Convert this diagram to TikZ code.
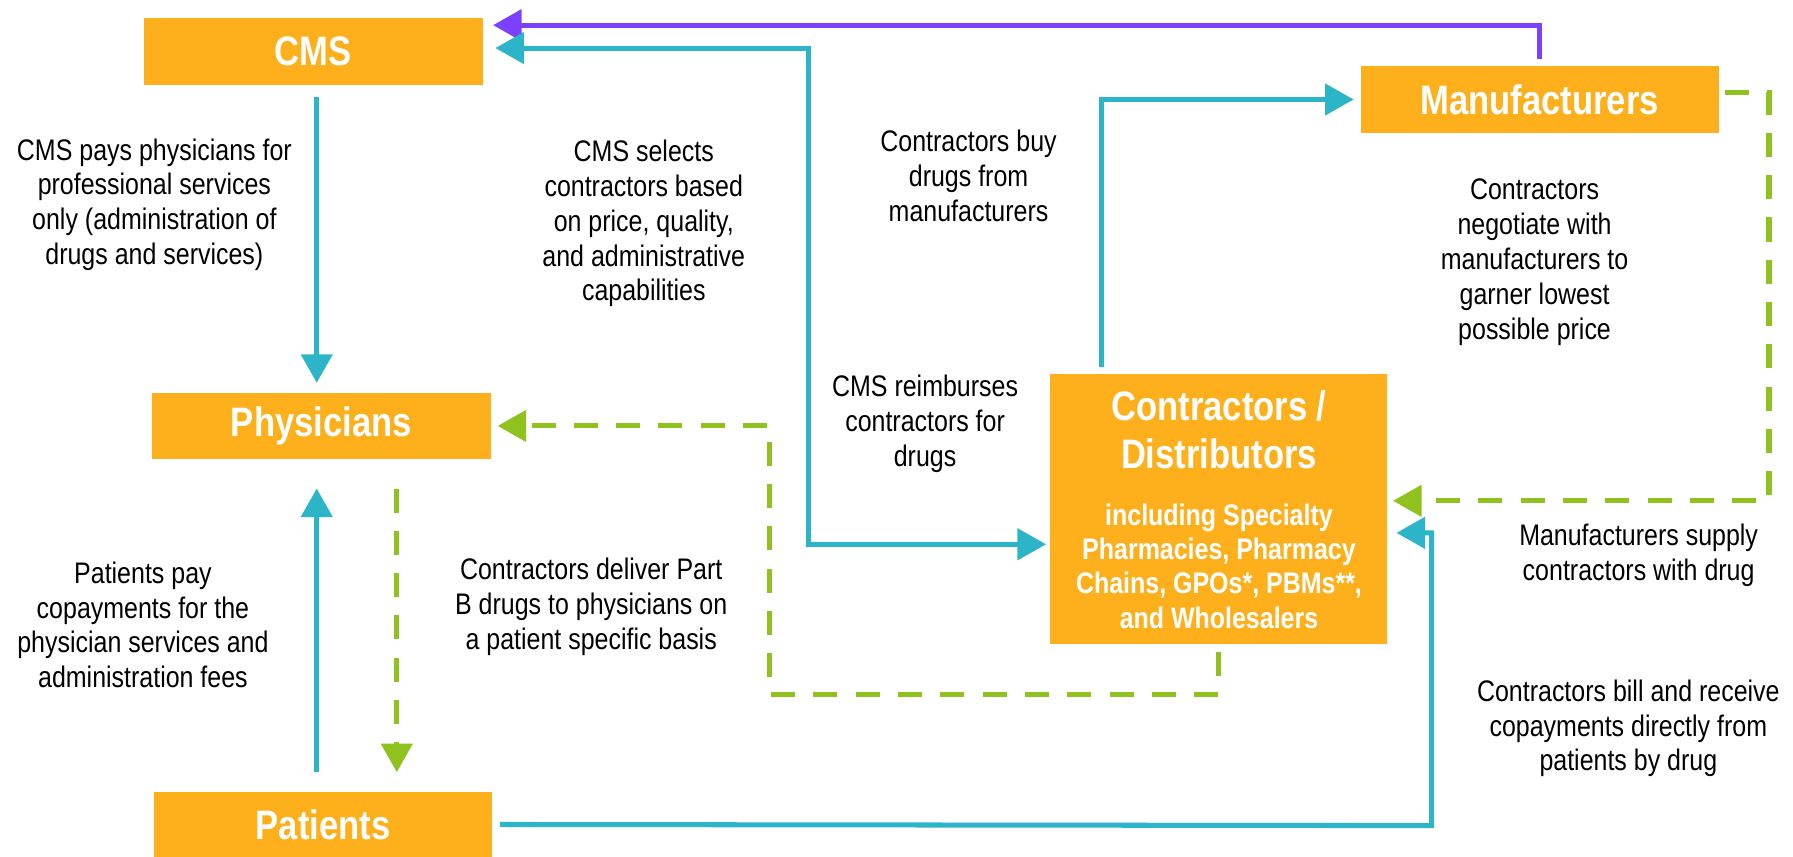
\documentclass[tikz,border=0pt]{standalone}
\usepackage{fontspec}
\setmainfont[FakeStretch=0.84]{Liberation Sans}
\usetikzlibrary{arrows.meta}
\definecolor{boxorange}{RGB}{253,176,27}
\definecolor{flowblue}{RGB}{44,181,200}
\definecolor{flowpurple}{RGB}{124,64,255}
\definecolor{flowgreen}{RGB}{143,194,31}

\tikzset{
  partybox/.style={fill=boxorange, draw=none, inner sep=0pt, text=white,
    font=\fontsize{36}{42}\selectfont\bfseries},
  boxtitle/.style={align=center, inner sep=0pt, text=white,
    font=\fontsize{36}{42}\selectfont\bfseries},
  boxsub/.style={align=center, inner sep=0pt, text=white,
    font=\fontsize{26}{30}\selectfont\bfseries},
  note/.style={align=center, inner sep=0pt, font=\fontsize{26}{30.5}\selectfont},
  blueline/.style={draw=flowblue, line width=4.4pt},
  purpleline/.style={draw=flowpurple, line width=4.4pt},
  greenline/.style={draw=flowgreen, line width=4.4pt, dash pattern=on 21pt off 16pt},
  headto/.style={-{Triangle[length=25pt,width=27pt]}},
  headboth/.style={{Triangle[length=25pt,width=27pt]}-{Triangle[length=25pt,width=27pt]}}
}

\begin{document}
\begin{tikzpicture}[x=1pt,y=1pt,yscale=-1,xscale=1]
\useasboundingbox (0,0) rectangle (1568,748.6);

%Shape: Rectangle [CMS]
\node [partybox, minimum width=296pt, minimum height=58pt] (cms) at (274,45) {CMS};
%Shape: Rectangle [Physicians]
\node [partybox, minimum width=296pt, minimum height=57pt] (phys) at (281,372.5) {Physicians};
%Shape: Rectangle [Patients]
\node [partybox, minimum width=295pt, minimum height=57pt] (pat) at (282.5,721) {Patients};
%Shape: Rectangle [Manufacturers]
\node [partybox, minimum width=313pt, minimum height=58pt] (manuf) at (1346.5,87) {Manufacturers};
%Shape: Rectangle [Contractors]
\node [partybox, minimum width=295pt, minimum height=236pt] (contr) at (1065.5,445) {};
\node [boxtitle] (contrtitle) at (1066,376) {Contractors /\\Distributors};
\node [boxsub] (contrsub) at (1066,495) {including Specialty\\Pharmacies, Pharmacy\\Chains, GPOs*, PBMs**,\\and Wholesalers};

%Rails
\coordinate (colL) at (277,0);
\coordinate (colG) at (347,0);
\coordinate (topRail) at (0,22);
\coordinate (cmsRail) at (707,42);
\coordinate (buyRail) at (963,87);
\coordinate (greenRail) at (1547,81);
\coordinate (bottomRail) at (1252,722);
\coordinate (dropG) at (673,607);

%Straight Lines [CMS -> Physicians]
\draw [blueline, headto, shorten <=11pt, shorten >=9pt] (cms.south -| colL) -- (phys.north -| colL);
%Straight Lines [Patients -> Physicians]
\draw [blueline, headto, shorten <=17pt, shorten >=26pt] (pat.north -| colL) -- (phys.south -| colL);
%Straight Lines [Physicians -> Patients]
\draw [greenline, headto, shorten <=26pt, shorten >=17pt] (phys.south -| colG) -- (pat.north -| colG);
%Straight Lines [Manufacturers -> CMS]
\draw [purpleline, headto, shorten <=6pt, shorten >=9pt] (manuf.north) -- (manuf.north |- topRail) -- (cms.east |- topRail);
%Straight Lines [CMS <-> Contractors]
\draw [blueline, headboth, shorten <=11pt, shorten >=3pt] (cms.east |- cmsRail) -- (cmsRail) |- (contr.west |- 0,476);
%Straight Lines [Contractors -> Manufacturers]
\draw [blueline, headto, shorten <=6pt, shorten >=6pt] (contr.north -| buyRail) -- (buyRail) -- (manuf.west);
%Straight Lines [Manufacturers -> Contractors]
\draw [greenline, headto, shorten <=5pt, shorten >=5pt] (manuf.east |- greenRail) -- (greenRail) |- (contr.east |- 0,438);
%Straight Lines [Patients -> Contractors]
\draw [blueline, headto, shorten <=7pt, shorten >=8pt] (pat.east) -- (bottomRail) |- (contr.east |- 0,466);
%Straight Lines [Contractors -> Physicians]
\draw [greenline, headto, shorten <=7pt, shorten >=6pt] (contr.south) |- (dropG) |- (phys.east);

% Text Node
\node [note] (paysnote) at (135,179) {CMS pays physicians for\\professional services\\only (administration of\\drugs and services)};
% Text Node
\node [note] (selectnote) at (563,195.5) {CMS selects\\contractors based\\on price, quality,\\and administrative\\capabilities};
% Text Node
\node [note] (buynote) at (847,154) {Contractors buy\\drugs from\\manufacturers};
% Text Node
\node [note] (negotiatenote) at (1342,229.5) {Contractors\\negotiate with\\manufacturers to\\garner lowest\\possible price};
% Text Node
\node [note] (reimbursenote) at (809,370.5) {CMS reimburses\\contractors for\\drugs};
% Text Node
\node [note] (copaynote) at (125,546.5) {Patients pay\\copayments for the\\physician services and\\administration fees};
% Text Node
\node [note] (delivernote) at (517,530.5) {Contractors deliver Part\\B drugs to physicians on\\a patient specific basis};
% Text Node
\node [note] (supplynote) at (1433,485.5) {Manufacturers supply\\contractors with drug};
% Text Node
\node [note] (billnote) at (1424,637) {Contractors bill and receive\\copayments directly from\\patients by drug};

\end{tikzpicture}
\end{document}
